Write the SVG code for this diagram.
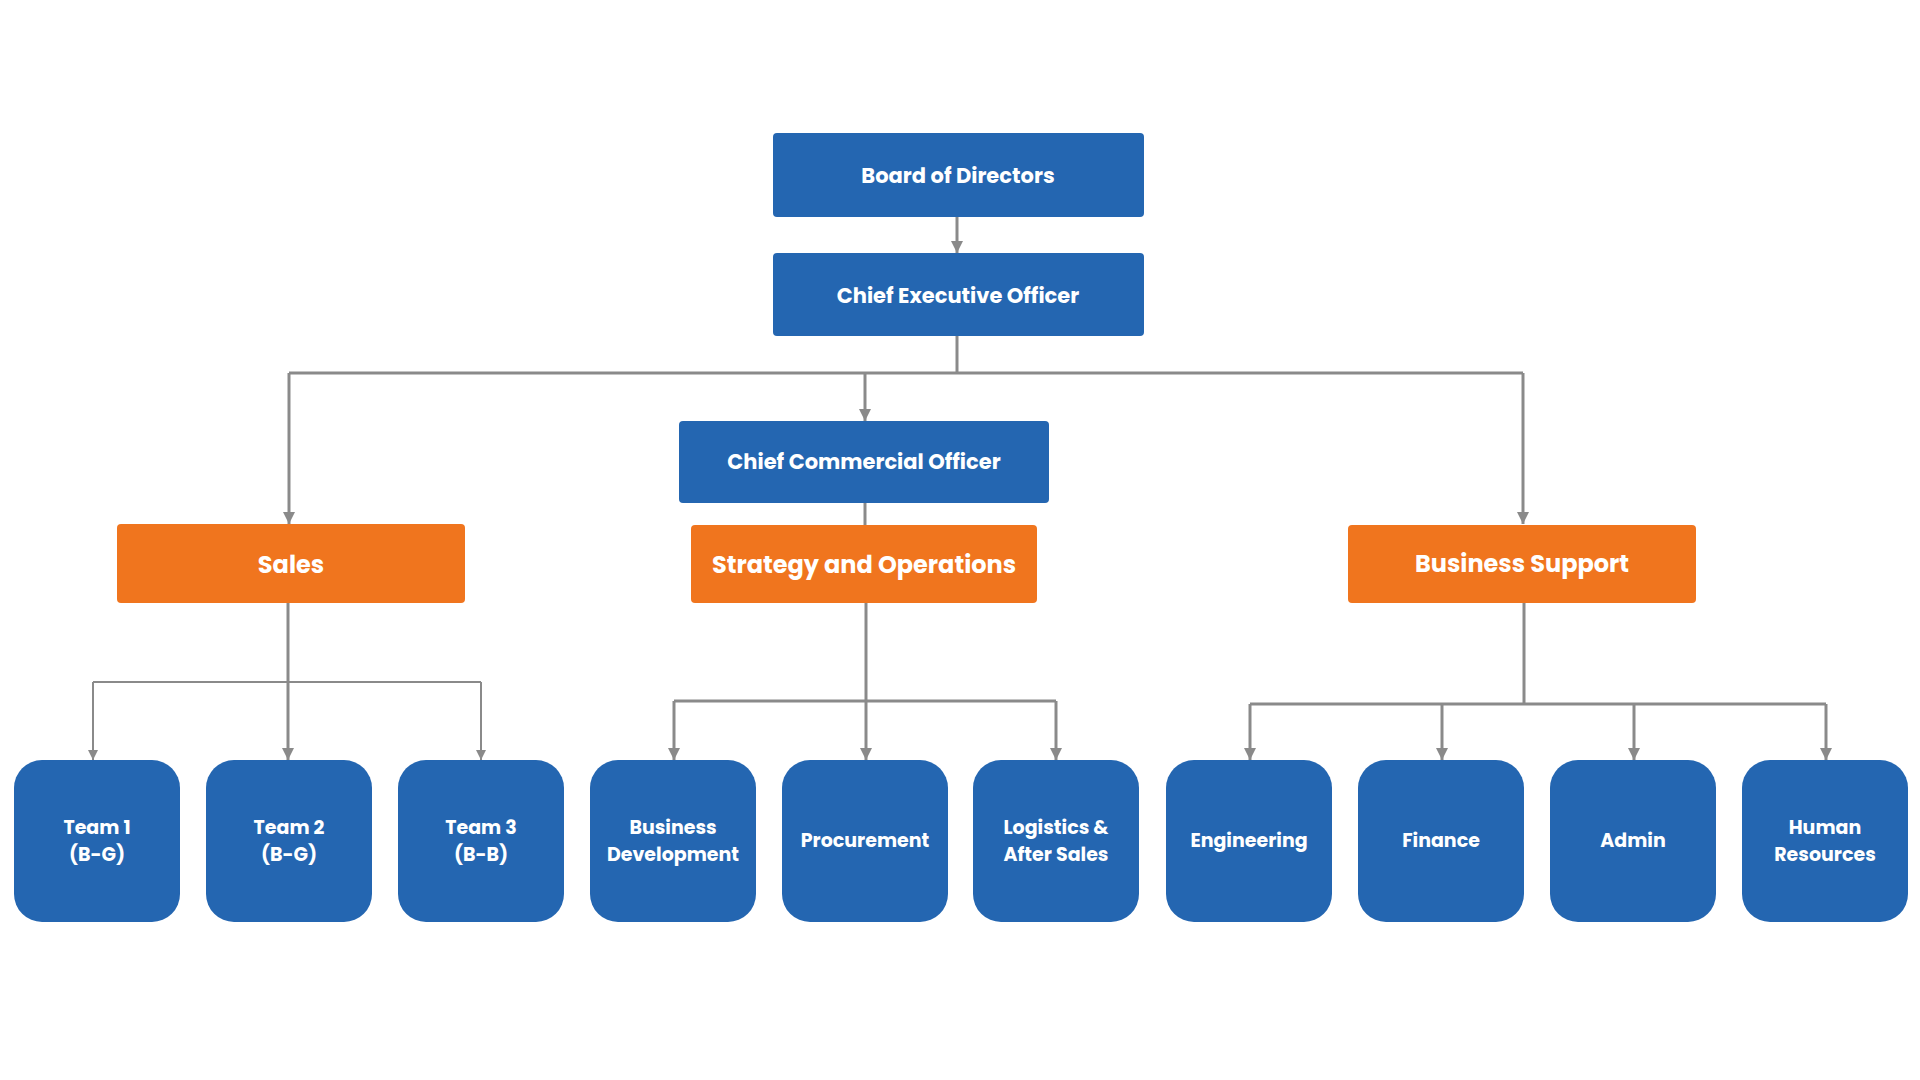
<svg xmlns="http://www.w3.org/2000/svg" width="1920" height="1080" viewBox="0 0 1920 1080">
<defs>
<marker id="ah" viewBox="0 0 10 10" refX="10" refY="5" markerWidth="4" markerHeight="4" orient="auto" markerUnits="strokeWidth">
<path d="M0,0 L10,5 L0,10 Z" fill="#8a8a8a"/>
</marker>
<marker id="ah2" viewBox="0 0 10 10" refX="10" refY="5" markerWidth="5" markerHeight="5" orient="auto" markerUnits="strokeWidth">
<path d="M0,0 L10,5 L0,10 Z" fill="#8a8a8a"/>
</marker>
</defs>
<style>
.blue{fill:#2466b1}
.orange{fill:#f0751e}
.t{font-family:Poppins,"Open Sans","Liberation Sans",sans-serif;font-weight:700;fill:#ffffff;text-anchor:middle}
.t1{font-size:21px}
.t2{font-size:24px}
.t3{font-size:19px}
.c{fill:none;stroke:#8a8a8a;stroke-width:3}
.c2{fill:none;stroke:#8a8a8a;stroke-width:2}
</style>
<rect width="1920" height="1080" fill="#ffffff"/>
<g id="connectors">
<path class="c" d="M957,217 V253" marker-end="url(#ah)"/>
<path class="c" d="M957,336 V373"/>
<path class="c" d="M289,373 H1523"/>
<path class="c" d="M289,373 V524" marker-end="url(#ah)"/>
<path class="c" d="M865,373 V421" marker-end="url(#ah)"/>
<path class="c" d="M1523,373 V524" marker-end="url(#ah)"/>
<path class="c" d="M865,503 V525"/>
<path class="c" d="M288,603 V760" marker-end="url(#ah)"/>
<path class="c2" d="M93,682 H481"/>
<path class="c2" d="M93,682 V760" marker-end="url(#ah2)"/>
<path class="c2" d="M481,682 V760" marker-end="url(#ah2)"/>
<path class="c" d="M866,603 V760" marker-end="url(#ah)"/>
<path class="c" d="M674,701 H1056"/>
<path class="c" d="M674,701 V760" marker-end="url(#ah)"/>
<path class="c" d="M1056,701 V760" marker-end="url(#ah)"/>
<path class="c" d="M1524,603 V704"/>
<path class="c" d="M1250,704 H1826"/>
<path class="c" d="M1250,704 V760" marker-end="url(#ah)"/>
<path class="c" d="M1442,704 V760" marker-end="url(#ah)"/>
<path class="c" d="M1634,704 V760" marker-end="url(#ah)"/>
<path class="c" d="M1826,704 V760" marker-end="url(#ah)"/>
</g>
<g id="board"><rect class="blue" x="773" y="133" width="371" height="84" rx="4"/><text class="t t1" x="958" y="183">Board of Directors</text></g>
<g id="ceo"><rect class="blue" x="773" y="253" width="371" height="83" rx="4"/><text class="t t1" x="958" y="303">Chief Executive Officer</text></g>
<g id="cco"><rect class="blue" x="679" y="421" width="370" height="82" rx="4"/><text class="t t1" x="864" y="469">Chief Commercial Officer</text></g>
<g id="sales"><rect class="orange" x="117" y="524" width="348" height="79" rx="4"/><text class="t t2" x="291" y="573">Sales</text></g>
<g id="strategy"><rect class="orange" x="691" y="525" width="346" height="78" rx="4"/><text class="t t2" x="864" y="573">Strategy and Operations</text></g>
<g id="bsupport"><rect class="orange" x="1348" y="525" width="348" height="78" rx="4"/><text class="t t2" x="1522" y="572">Business Support</text></g>
<g id="team1"><rect class="blue" x="14" y="760" width="166" height="162" rx="28"/><text class="t t3" x="97" y="834">Team 1<tspan x="97" dy="27">(B-G)</tspan></text></g>
<g id="team2"><rect class="blue" x="206" y="760" width="166" height="162" rx="28"/><text class="t t3" x="289" y="834">Team 2<tspan x="289" dy="27">(B-G)</tspan></text></g>
<g id="team3"><rect class="blue" x="398" y="760" width="166" height="162" rx="28"/><text class="t t3" x="481" y="834">Team 3<tspan x="481" dy="27">(B-B)</tspan></text></g>
<g id="busdev"><rect class="blue" x="590" y="760" width="166" height="162" rx="28"/><text class="t t3" x="673" y="834">Business<tspan x="673" dy="27">Development</tspan></text></g>
<g id="procurement"><rect class="blue" x="782" y="760" width="166" height="162" rx="28"/><text class="t t3" x="865" y="847">Procurement</text></g>
<g id="logistics"><rect class="blue" x="973" y="760" width="166" height="162" rx="28"/><text class="t t3" x="1056" y="834">Logistics &amp;<tspan x="1056" dy="27">After Sales</tspan></text></g>
<g id="engineering"><rect class="blue" x="1166" y="760" width="166" height="162" rx="28"/><text class="t t3" x="1249" y="847">Engineering</text></g>
<g id="finance"><rect class="blue" x="1358" y="760" width="166" height="162" rx="28"/><text class="t t3" x="1441" y="847">Finance</text></g>
<g id="admin"><rect class="blue" x="1550" y="760" width="166" height="162" rx="28"/><text class="t t3" x="1633" y="847">Admin</text></g>
<g id="hr"><rect class="blue" x="1742" y="760" width="166" height="162" rx="28"/><text class="t t3" x="1825" y="834">Human<tspan x="1825" dy="27">Resources</tspan></text></g>
</svg>
